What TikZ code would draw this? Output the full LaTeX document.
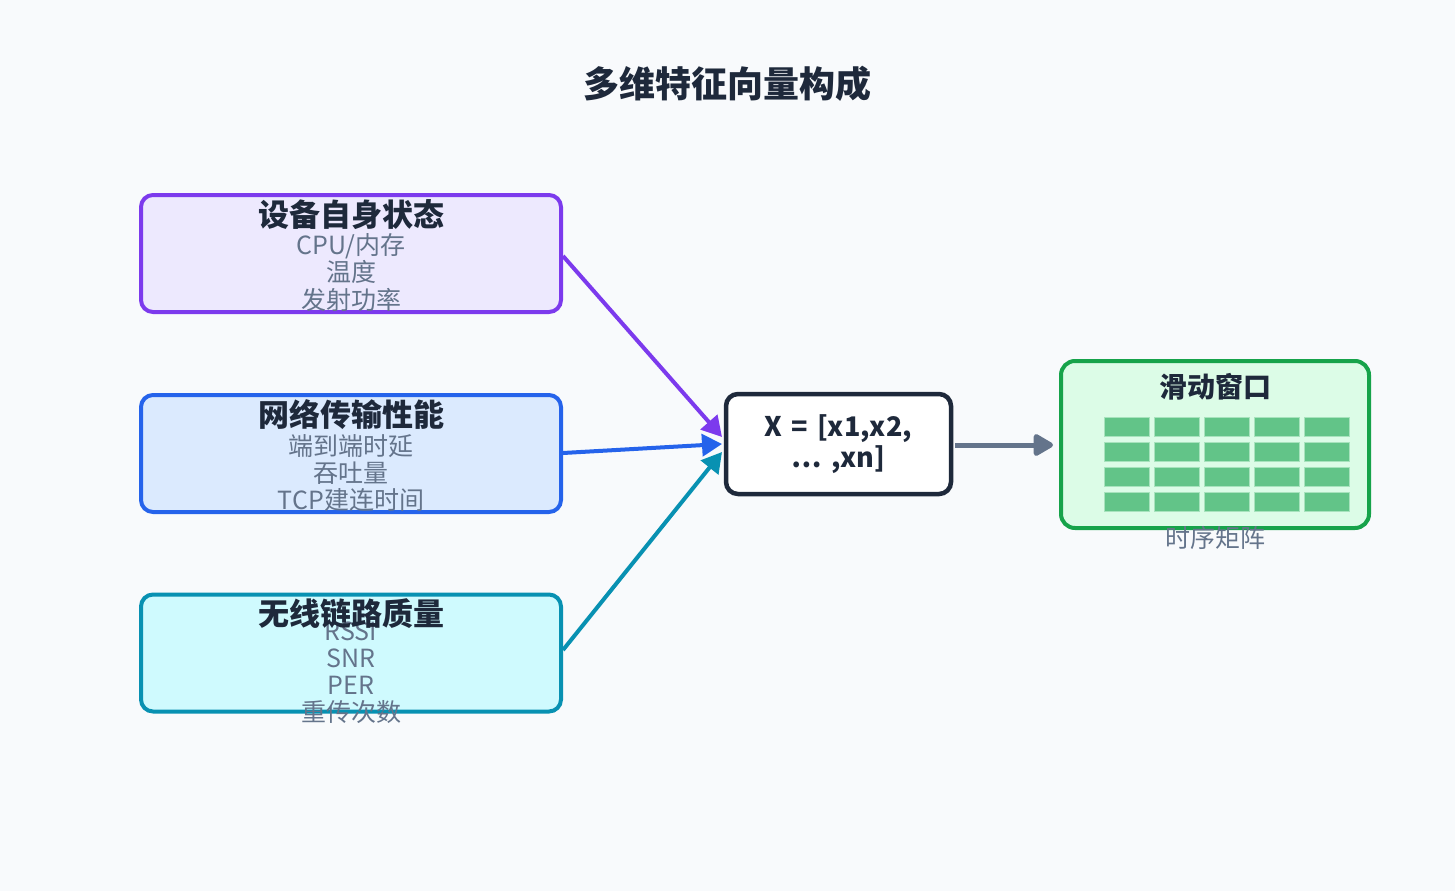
\documentclass[tikz,border=0pt]{standalone}
\usepackage{fontspec}
\setmainfont{Noto Sans CJK SC}
\usetikzlibrary{arrows.meta}
\definecolor{bg}{HTML}{F8FAFC}
\definecolor{ink}{HTML}{1E293B}
\definecolor{sub}{HTML}{64748B}
\definecolor{pur}{HTML}{7C3AED}
\definecolor{purf}{HTML}{EDE9FE}
\definecolor{blu}{HTML}{2563EB}
\definecolor{bluf}{HTML}{DBEAFE}
\definecolor{cya}{HTML}{0891B2}
\definecolor{cyaf}{HTML}{CFFAFE}
\definecolor{grn}{HTML}{16A34A}
\definecolor{grnf}{HTML}{DCFCE7}
\definecolor{cell}{HTML}{62C488}
\definecolor{cellb}{HTML}{A7E3BD}
\tikzset{
  catbox/.style={draw, line width=4pt, rounded corners=12pt, minimum width=420pt, minimum height=117pt, inner sep=0pt},
  cattitle/.style={font=\fontsize{31}{31}\selectfont\bfseries, text=ink, inner sep=0pt},
  subline/.style={font=\fontsize{25}{25}\selectfont, text=sub, inner sep=0pt},
  flow/.style={line width=4pt, -{Triangle[length=20pt,width=22pt]}},
  gridcell/.style={fill=cell, draw=cellb, line width=1pt, minimum width=45pt, minimum height=19pt, inner sep=0pt}
}
\begin{document}
\begin{tikzpicture}[x=1pt,y=-1pt]
\fill[bg] (0,0) rectangle (1455,891);
\useasboundingbox (0,0) rectangle (1455,891);
\node[font=\fontsize{36}{36}\selectfont\bfseries, text=ink, inner sep=0pt] (title) at (727,84) {多维特征向量构成};
% box 1
\node[catbox, draw=pur, fill=purf] (b1) at (351,253.5) {};
\node[subline] (b1a) at (351,246) {CPU/内存};
\node[subline] (b1b) at (351,272) {温度};
\node[subline] (b1c) at (351,300) {发射功率};
\node[cattitle] (b1t) at (351,215) {设备自身状态};
% box 2
\node[catbox, draw=blu, fill=bluf] (b2) at (351,453.5) {};
\node[subline] (b2a) at (351,446) {端到端时延};
\node[subline] (b2b) at (351,473) {吞吐量};
\node[subline] (b2c) at (351,500) {TCP建连时间};
\node[cattitle] (b2t) at (351,415) {网络传输性能};
% box 3
\node[catbox, draw=cya, fill=cyaf] (b3) at (351,653) {};
\node[subline] (b3a) at (351,631) {RSSI};
\node[subline] (b3b) at (351,658) {SNR};
\node[subline] (b3c) at (351,685) {PER};
\node[subline] (b3d) at (351,712) {重传次数};
\node[cattitle] (b3t) at (351,614) {无线链路质量};
% center
\node[draw=ink, fill=white, line width=4.5pt, rounded corners=12pt, minimum width=225pt, minimum height=100pt, inner sep=0pt, align=center, font=\fontsize{27}{31}\selectfont\bfseries, text=ink] (vec) at (838.5,444) {X\,\,=\,\,[x1,x2,\\ …\,\,,xn]};
% right box
\node[draw=grn, fill=grnf, line width=4pt, rounded corners=14pt, minimum width=308pt, minimum height=167pt, inner sep=0pt] (win) at (1215,444.5) {};
\node[font=\fontsize{28}{28}\selectfont\bfseries, text=ink, inner sep=0pt] (wint) at (1215,387) {滑动窗口};
\foreach \c in {0,...,4}{
  \foreach \r in {0,...,3}{
    \node[gridcell] (g\c\r) at (1126.5+50.2*\c, 426.5+25*\r) {};
  }
}
\node[subline] (wins) at (1215,538) {时序矩阵};
% arrows
\coordinate (e1) at (722,437);
\coordinate (e2) at (722,444);
\coordinate (e3) at (722,452);
\coordinate (gs) at (955,445);
\coordinate (ge) at (1053,445);
\draw[flow, pur] (b1.east |- 0,256) -- (e1);
\draw[flow, blu] (b2.east |- 0,453) -- (e2);
\draw[flow, cya] (b3.east |- 0,650) -- (e3);
\draw[line width=5pt, sub, -{Triangle[length=22pt,width=24pt,round]}] (gs) -- (ge);
\end{tikzpicture}
\end{document}
